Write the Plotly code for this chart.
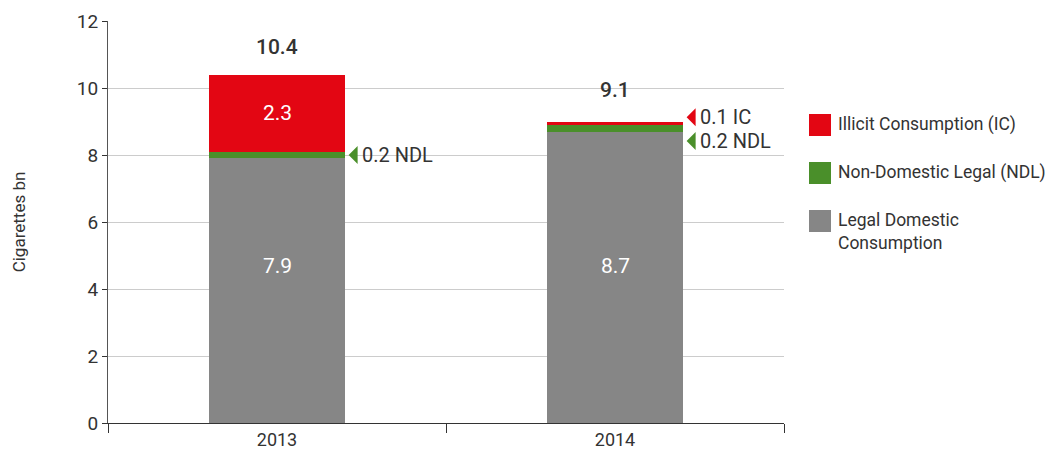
import plotly.graph_objects as go

# Cigarette consumption by source, billions of sticks
years = ["2013", "2014"]
legal_domestic = [7.9, 8.7]
non_domestic_legal = [0.2, 0.2]
illicit = [2.3, 0.1]
total_labels = [10.4, 9.1]

series_names = ["Legal Domestic Consumption", "Non-Domestic Legal (NDL)", "Illicit Consumption (IC)"]
legend_names = ["Illicit Consumption (IC)", "Non-Domestic Legal (NDL)", "Legal Domestic<br>Consumption"]

RED = "#e30613"
GREEN = "#4a8f2a"
GREY = "#868686"
TEXT = "#333333"
FONT = "Roboto, Arial, sans-serif"

W, H = 1054, 457
ML, MR, MT, MB = 108, 270, 21, 34
PW, PH = W - ML - MR, H - MT - MB
BAR_W = 0.40


def px_x(px):
    return (px - ML) / PW


def px_y(py):
    return (H - MB - py) / PH


fig = go.Figure()
for vals, name, color in [(legal_domestic, series_names[0], GREY),
                          (non_domestic_legal, series_names[1], GREEN),
                          (illicit, series_names[2], RED)]:
    fig.add_trace(go.Bar(x=years, y=vals, name=name, marker=dict(color=color, line=dict(width=0)),
                         width=BAR_W, showlegend=False, hoverinfo="y+name"))

annotations = []
shapes = []

# totals above bars
for i, t in enumerate(total_labels):
    annotations.append(dict(x=i, y=t, xref="x", yref="y", text=f"{t:.1f}", showarrow=False,
                            yanchor="bottom", yshift=14,
                            font=dict(size=21, color=TEXT, family=FONT, weight=500)))

# white values inside the larger segments
for i, v in enumerate(legal_domestic):
    annotations.append(dict(x=i, y=4.7, xref="x", yref="y", text=f"{v:.1f}", showarrow=False,
                            font=dict(size=21, color="white", family=FONT)))
annotations.append(dict(x=0, y=legal_domestic[0] + non_domestic_legal[0] + illicit[0] / 2,
                        xref="x", yref="y", text=f"{illicit[0]:.1f}", showarrow=False,
                        font=dict(size=21, color="white", family=FONT)))

# side call-outs for the thin segments: (bar index, label height, value, suffix, colour)
callouts = [
    (0, legal_domestic[0] + non_domestic_legal[0] / 2, non_domestic_legal[0], "NDL", GREEN),
    (1, 9.13, illicit[1], "IC", RED),
    (1, 8.42, non_domestic_legal[1], "NDL", GREEN),
]
for idx, yv, val, tag, color in callouts:
    shapes.append(dict(type="path", xref="x", yref="y", xsizemode="pixel", ysizemode="pixel",
                       xanchor=idx + BAR_W / 2, yanchor=yv,
                       path="M 4 0 L 13 -9 L 13 9 Z", fillcolor=color, line=dict(width=0)))
    annotations.append(dict(x=idx + BAR_W / 2, y=yv, xref="x", yref="y", text=f"{val:.1f} {tag}",
                            showarrow=False, xanchor="left", xshift=15,
                            font=dict(size=20, color=TEXT, family=FONT)))

# legend drawn as swatches with labels
legend_rows = [(RED, 125), (GREEN, 173), (GREY, 221)]
for (color, cy), label in zip(legend_rows, legend_names):
    shapes.append(dict(type="rect", xref="paper", yref="paper",
                       x0=px_x(809), x1=px_x(831), y0=px_y(cy + 11), y1=px_y(cy - 11),
                       fillcolor=color, line=dict(width=0)))
    annotations.append(dict(x=px_x(836), y=px_y(cy - 13), xref="paper", yref="paper", text=label,
                            showarrow=False, xanchor="left", yanchor="top", align="left",
                            font=dict(size=17.5, color=TEXT, family=FONT)))

fig.update_layout(
    width=W, height=H,
    margin=dict(l=ML, r=MR, t=MT, b=MB, autoexpand=False),
    barmode="stack",
    plot_bgcolor="white", paper_bgcolor="white",
    font=dict(family=FONT, color=TEXT),
    shapes=shapes, annotations=annotations,
    xaxis=dict(type="category", tickson="boundaries", ticks="outside", ticklen=9, tickcolor="#333",
               showline=True, linecolor="#333", linewidth=1, showgrid=False, automargin=False,
               tickfont=dict(size=18, color=TEXT, family=FONT)),
    yaxis=dict(range=[0, 12], dtick=2, ticks="outside", ticklen=5, tickcolor="#333",
               showline=True, linecolor="#555", linewidth=1, automargin=False,
               showgrid=True, gridcolor="#cccccc", gridwidth=1, zeroline=False,
               tickfont=dict(size=19, color=TEXT, family=FONT),
               title=dict(text="Cigarettes bn", standoff=46, font=dict(size=17, color=TEXT, family=FONT))),
)

fig.write_html("out.html")
